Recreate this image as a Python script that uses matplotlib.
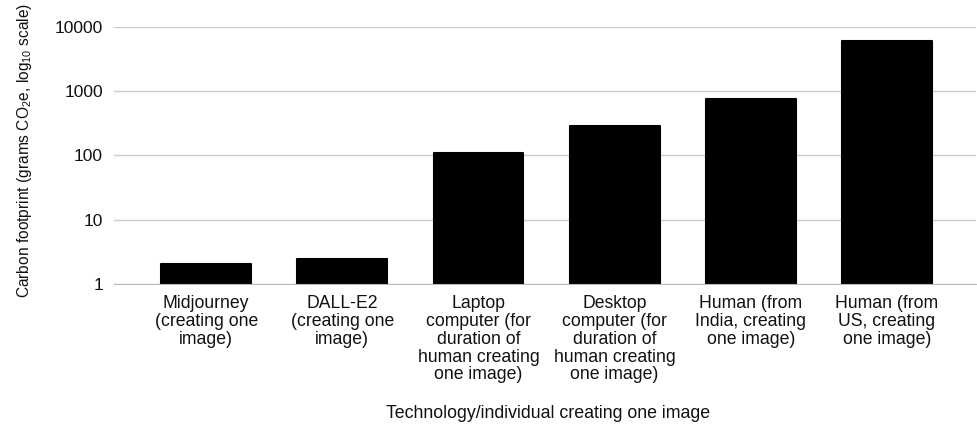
import matplotlib
matplotlib.use("Agg")
import matplotlib.pyplot as plt
import numpy as np

# 資料
categories = [
    "Midjourney\n(creating one\nimage)",
    "DALL-E2\n(creating one\nimage)",
    "Laptop\ncomputer (for\nduration of\nhuman creating\none image)",
    "Desktop\ncomputer (for\nduration of\nhuman creating\none image)",
    "Human (from\nIndia, creating\none image)",
    "Human (from\nUS, creating\none image)",
]
values = [2.03, 2.40, 111, 288, 761, 6130]
yticks = [1, 10, 100, 1000, 10000]
ytick_labels = ["1", "10", "100", "1000", "10000"]

plt.rcParams["font.family"] = ["Liberation Sans", "DejaVu Sans"]
plt.rcParams["mathtext.fontset"] = "custom"
plt.rcParams["mathtext.rm"] = "Liberation Sans"
plt.rcParams["mathtext.it"] = "Liberation Sans"
plt.rcParams["mathtext.default"] = "rm"

fig = plt.figure(figsize=(9.77, 4.26), dpi=100)
ax = fig.add_axes([0.1167, 0.334, 0.882, 0.602])

x = np.arange(len(categories))
ax.bar(x, values, width=0.66, bottom=0, color="black", edgecolor="black",
       linewidth=1.5, joinstyle="round", zorder=3)

ax.set_yscale("log")
ax.set_ylim(1, 10000)
ax.set_xlim(-0.677, 5.652)
ax.set_yticks(yticks)
ax.set_yticklabels(ytick_labels, fontsize=12.5, color="#111111")
ax.yaxis.set_minor_locator(matplotlib.ticker.NullLocator())
ax.set_xticks(x)
ax.set_xticklabels(categories, fontsize=12.7, linespacing=1.07, color="#111111")

ax.tick_params(axis="both", length=0)
ax.tick_params(axis="y", pad=8)
ax.tick_params(axis="x", pad=8)

ax.grid(axis="y", color="#cccccc", linewidth=1, zorder=0)
for s in ["top", "right", "left"]:
    ax.spines[s].set_visible(False)
ax.spines["bottom"].set_color("#bbbbbb")
ax.spines["bottom"].set_zorder(4)

ax.set_ylabel(r"Carbon footprint (grams CO$_2$e, log$_{10}$ scale)", fontsize=11.2, color="#111111")
ax.yaxis.set_label_coords(-0.093, 0.52)
fig.text(0.561, 0.019, "Technology/individual creating one image", fontsize=12.8,
         ha="center", va="baseline", color="#111111")

plt.savefig("out.png", dpi=100)
